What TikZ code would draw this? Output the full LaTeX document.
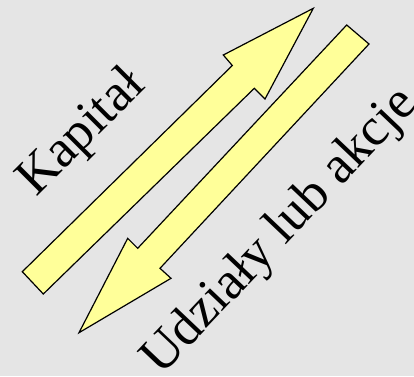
\documentclass[tikz,border=0pt]{standalone}
\usepackage{fontspec}
\setmainfont{Liberation Serif}
\usepackage{tikz}

\definecolor{bggray}{HTML}{E5E5E5}
\definecolor{arrowyellow}{HTML}{FFFF99}

\begin{document}
\begin{tikzpicture}[
    x=1pt, y=-1pt,
    flow/.style={draw=black, fill=arrowyellow, line width=1.2pt, line join=miter},
    caption/.style={inner sep=0pt, anchor=base west, font=\fontsize{53}{60}\selectfont}
]

% background
\fill[bggray] (0,0) rectangle (414,376);
\useasboundingbox (0,0) rectangle (414,376);

% capital arrow (up, right)
\draw[flow] (22.3,271.7) -- (232.3,65.5) -- (223.3,55) -- (313.3,8.3)
    -- (265,99) -- (254.3,88.3) -- (43.3,294) -- cycle;

% shares arrow (down, left)
\draw[flow] (346.7,25) -- (137.7,248.3) -- (127.7,238.3) -- (79,332.7)
    -- (171,278.3) -- (160,268.3) -- (369,44) -- cycle;

% labels
\node[caption, rotate=45] (kapital) at (36,198) {Kapitał};
\node[caption, rotate=46.5] (udzialy) at (161,377) {Udziały lub akcje};

\end{tikzpicture}
\end{document}
